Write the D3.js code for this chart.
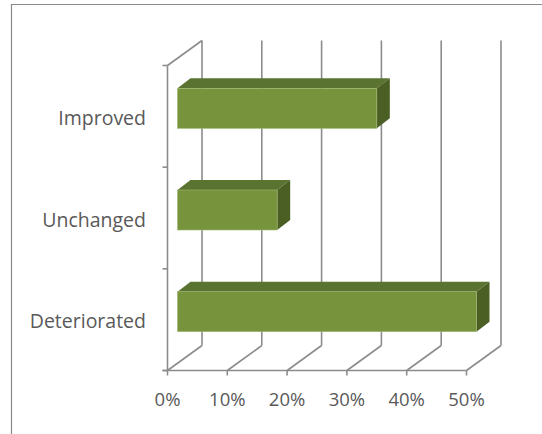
<!DOCTYPE html>
<html>
<head>
<meta charset="utf-8">
<script src="https://cdn.jsdelivr.net/npm/d3@7"></script>
<style>
  html, body { margin: 0; padding: 0; background: #fff; }
  svg { display: block; }
  text { font-family: "Open Sans", Lato, sans-serif; fill: #595959; }
</style>
</head>
<body>
<svg id="chart" width="542" height="434"></svg>
<script>
// Share of responses per outcome
const categories = ["Improved", "Unchanged", "Deteriorated"];
const shares = [0.3333, 0.1667, 0.5];
const tickValues = [0, 0.1, 0.2, 0.3, 0.4, 0.5];

const svg = d3.select("#chart");

// Frame around the chart area
svg.append("path")
  .attr("d", "M11.5,434 V4.5 H542")
  .attr("fill", "none")
  .attr("stroke", "#8a8a8a")
  .attr("stroke-width", 1.2);

// Scales for the front plane of the 3-D box
const x = d3.scaleLinear().domain([0, 0.5]).range([167.5, 466.5]);
const y = d3.scaleBand().domain(categories).range([65.5, 370.5]).padding(0);

// Depth of the box (back wall offset) and of the bars
const depth = { dx: 34.5, dy: -25 };
const barFront = { dx: 10, dy: -8 };
const barDepth = { dx: 13, dy: -10 };
const barH = 40;

const grid = svg.append("g")
  .attr("fill", "none")
  .attr("stroke", "#8c8c8c")
  .attr("stroke-width", 1.6);

const yTop = y.range()[0];
const yBot = y.range()[1];

// Back wall vertical gridlines
tickValues.forEach(v => {
  const fx = x(v);
  grid.append("line")
    .attr("x1", fx + depth.dx).attr("x2", fx + depth.dx)
    .attr("y1", yTop + depth.dy).attr("y2", yBot + depth.dy);
  // floor diagonals
  grid.append("line")
    .attr("x1", fx).attr("y1", yBot)
    .attr("x2", fx + depth.dx).attr("y2", yBot + depth.dy);
  // small ticks below the front axis
  grid.append("line")
    .attr("x1", fx).attr("x2", fx)
    .attr("y1", yBot).attr("y2", yBot + 5);
});

// Left side wall: front vertical axis and top diagonal
grid.append("line")
  .attr("x1", x(0)).attr("x2", x(0))
  .attr("y1", yTop).attr("y2", yBot);
grid.append("line")
  .attr("x1", x(0)).attr("y1", yTop)
  .attr("x2", x(0) + depth.dx).attr("y2", yTop + depth.dy);

// Front floor edge
grid.append("line")
  .attr("x1", x(0) - 5).attr("x2", x(0.5))
  .attr("y1", yBot).attr("y2", yBot);

// Category ticks on the left axis
[...categories.map(c => y(c)), yBot].forEach(py => {
  grid.append("line")
    .attr("x1", x(0) - 5).attr("x2", x(0))
    .attr("y1", py).attr("y2", py);
});

// 3-D bars
const bars = svg.append("g");
categories.forEach((c, i) => {
  const v = shares[i];
  const cy = y(c) + y.bandwidth() / 2 + barFront.dy;
  const x0 = x(0) + barFront.dx;
  const x1 = x(v) + barFront.dx;
  const t = cy - barH / 2;
  const b = cy + barH / 2;
  const g = bars.append("g");
  // top face
  g.append("path")
    .attr("d", `M${x0},${t} L${x0 + barDepth.dx},${t + barDepth.dy} L${x1 + barDepth.dx},${t + barDepth.dy} L${x1},${t} Z`)
    .attr("fill", "#5b7330");
  // side face
  g.append("path")
    .attr("d", `M${x1},${t} L${x1 + barDepth.dx},${t + barDepth.dy} L${x1 + barDepth.dx},${b + barDepth.dy} L${x1},${b} Z`)
    .attr("fill", "#4b5f25");
  // front face
  g.append("rect")
    .attr("x", x0).attr("y", t)
    .attr("width", x1 - x0).attr("height", barH)
    .attr("fill", "#77933c")
    .attr("stroke", "#9fb873")
    .attr("stroke-width", 0.6);
});

// Category labels
svg.append("g")
  .selectAll("text")
  .data(categories)
  .join("text")
  .attr("x", 146)
  .attr("y", d => y(d) + y.bandwidth() / 2 + 8.5)
  .attr("text-anchor", "end")
  .attr("font-size", 19.5)
  .text(d => d);

// Percentage tick labels
svg.append("g")
  .selectAll("text")
  .data(tickValues)
  .join("text")
  .attr("x", d => x(d))
  .attr("y", 406)
  .attr("text-anchor", "middle")
  .attr("font-size", 18.5)
  .text(d => d3.format(".0%")(d));
</script>
</body>
</html>
